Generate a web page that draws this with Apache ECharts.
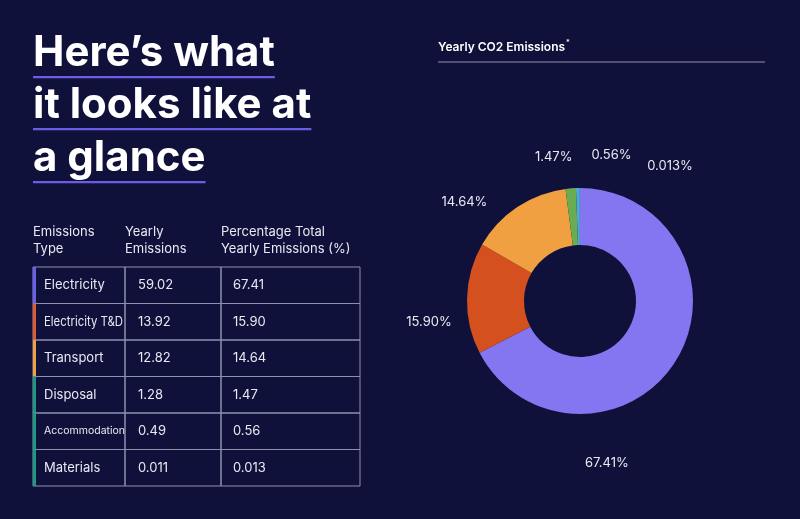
<!DOCTYPE html>
<html>
<head>
<meta charset="utf-8">
<script src="https://cdn.jsdelivr.net/npm/echarts@6/dist/echarts.min.js"></script>
<style>
html,body{margin:0;padding:0;background:#10113a;}
#chart{width:800px;height:519px;}
</style>
</head>
<body>
<div id="chart"></div>
<script>
// ---- data ----
const categories = ['Electricity', 'Electricity T&D', 'Transport', 'Disposal', 'Accommodation', 'Materials'];
const yearlyEmissions = ['59.02', '13.92', '12.82', '1.28', '0.49', '0.011'];
const percentTotal = ['67.41', '15.90', '14.64', '1.47', '0.56', '0.013'];
const headerLines = [['Emissions', 'Type'], ['Yearly', 'Emissions'], ['Percentage Total', 'Yearly Emissions (%)']];
const headlineLines = ['Here\u2019s what', 'it looks like at', 'a glance'];
const chartTitle = 'Yearly CO2 Emissions';

// ---- styles ----
const BG = '#10113a';
const FONT = 'Inter, "Noto Sans", sans-serif';
const pieColors = ['#8475f0', '#d4511f', '#f0a040', '#6aac52', '#4fa9d2', '#2a9a8a'];
const barColors = ['#6a60f0', '#e05a2e', '#f0a040', '#1a9a80', '#1a9a80', '#1a9a80'];
const gridColor = '#8e90ad';
const textColor = '#e9e9f2';
// label placement nudges (style only), per slice in series order
const labelNudge = [[-96, 90], [-8, 24], [-34, 16], [-10, -6], [39, -8], [95, 3]];

function measure(text, font) {
  const c = document.createElement('canvas').getContext('2d');
  c.font = font;
  return c.measureText(text).width;
}

const graphics = [];

// headline with underlines
const hlSize = 42;
const hlFont = 'bold ' + hlSize + 'px ' + FONT;
const hlBottom = [74, 126, 179];
const ulY = [76, 128, 181];
headlineLines.forEach((t, i) => {
  graphics.push({
    type: 'text', x: 33, y: hlBottom[i],
    style: { text: t, fill: '#ffffff', font: hlFont, align: 'left', verticalAlign: 'bottom' }
  });
  graphics.push({
    type: 'rect', shape: { x: 33, y: ulY[i], width: measure(t, hlFont), height: 2.2 },
    style: { fill: '#6b5ce6' }
  });
});

// chart title
const ctFont = '600 12px ' + FONT;
graphics.push({
  type: 'text', x: 438, y: 47,
  style: { text: chartTitle, fill: '#ffffff', font: ctFont, verticalAlign: 'middle' }
});
graphics.push({
  type: 'text', x: 438 + measure(chartTitle, ctFont) + 1, y: 43,
  style: { text: '*', fill: '#ffffff', font: '600 7px ' + FONT, verticalAlign: 'middle' }
});
graphics.push({
  type: 'line', shape: { x1: 438, y1: 62, x2: 765, y2: 62 },
  style: { stroke: '#8e90ad', lineWidth: 1 }
});

// table
const colX = [33, 125, 221, 360];
const top0 = 267, rowH = 36.5;
const cellFont = '13px ' + FONT;
headerLines.forEach((lines, c) => {
  lines.forEach((t, k) => {
    graphics.push({
      type: 'text', x: colX[c], y: 232 + k * 17,
      style: { text: t, fill: textColor, font: cellFont, verticalAlign: 'middle' }
    });
  });
});
categories.forEach((cat, r) => {
  const y = top0 + r * rowH;
  for (let c = 0; c < 3; c++) {
    graphics.push({
      type: 'rect', shape: { x: colX[c], y: y, width: colX[c + 1] - colX[c], height: rowH },
      style: { fill: 'none', stroke: gridColor, lineWidth: 1 }
    });
  }
  graphics.push({
    type: 'rect', shape: { x: colX[0], y: y, width: 3, height: rowH },
    style: { fill: barColors[r] }
  });
  const cy = y + rowH / 2;
  const avail = colX[1] - 44 - 2;
  let catFont = cellFont, sx = 1;
  if (measure(cat, cellFont) > avail) {
    if (cat.indexOf(' ') < 0) {
      catFont = '10.5px ' + FONT;
    } else {
      sx = avail / measure(cat, cellFont);
    }
  }
  graphics.push({ type: 'text', x: 44, y: cy, scaleX: sx, style: { text: cat, fill: textColor, font: catFont, verticalAlign: 'middle' } });
  graphics.push({ type: 'text', x: 138, y: cy, style: { text: yearlyEmissions[r], fill: textColor, font: cellFont, verticalAlign: 'middle' } });
  graphics.push({ type: 'text', x: 233, y: cy, style: { text: percentTotal[r], fill: textColor, font: cellFont, verticalAlign: 'middle' } });
});

const chart = echarts.init(document.getElementById('chart'));
chart.setOption({
  backgroundColor: BG,
  animation: false,
  graphic: graphics,
  series: [{
    type: 'pie',
    center: [580, 301],
    radius: [56, 113],
    startAngle: 90,
    clockwise: true,
    avoidLabelOverlap: false,
    color: pieColors,
    itemStyle: { borderWidth: 0 },
    label: {
      show: true,
      position: 'outside',
      color: textColor,
      fontFamily: FONT,
      fontSize: 13,
      formatter: p => percentTotal[p.dataIndex] + '%'
    },
    labelLine: { show: false, length: 25, length2: 0 },
    labelLayout: p => ({ align: 'center', dx: labelNudge[p.dataIndex][0], dy: labelNudge[p.dataIndex][1] }),
    emphasis: { disabled: true },
    data: categories.map((c, i) => ({ name: c, value: parseFloat(percentTotal[i]) }))
  }]
});
</script>
</body>
</html>
